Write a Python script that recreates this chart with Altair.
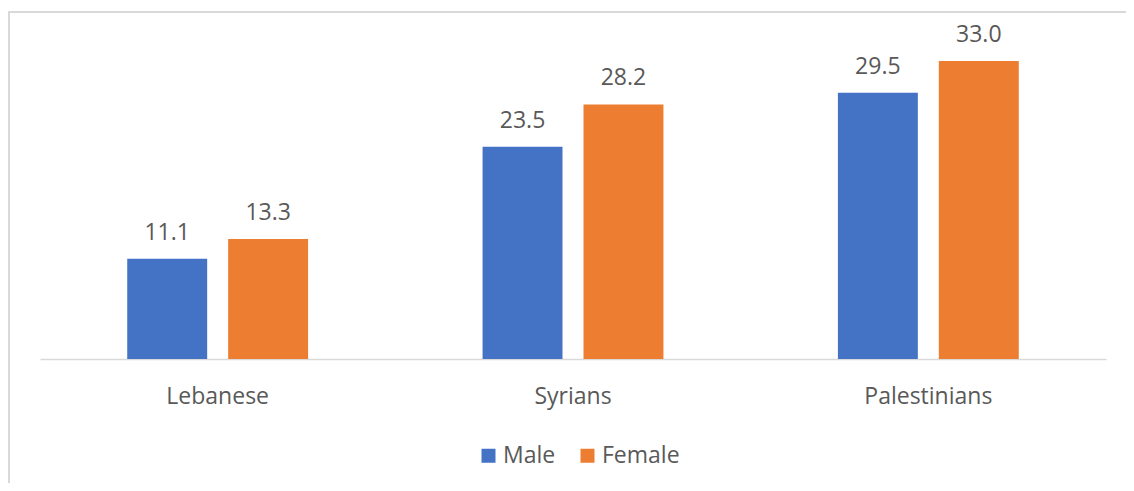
import altair as alt
import pandas as pd

groups = ["Lebanese", "Syrians", "Palestinians"]
sexes = ["Male", "Female"]
male_values = [11.1, 23.5, 29.5]
female_values = [13.3, 28.2, 33.0]
colors = ["#4472C4", "#ED7D31"]

rows = []
for g, m, f in zip(groups, male_values, female_values):
    rows.append({"group": g, "sex": "Male", "value": m})
    rows.append({"group": g, "sex": "Female", "value": f})
df = pd.DataFrame(rows)

FONT = "Open Sans"
TXT = "#595959"
FS = 23

x_enc = alt.X(
    "group:N",
    sort=groups,
    scale=alt.Scale(paddingInner=0.491, paddingOuter=0.2455),
    axis=alt.Axis(
        title=None,
        labelAngle=0,
        ticks=False,
        tickSize=0,
        labelPadding=44,
        labelBaseline="alphabetic",
        labelFont=FONT,
        labelFontSize=FS,
        labelColor=TXT,
        domainColor="#d9d9d9",
        domainWidth=1.5,
        grid=False,
    ),
)
xoff = alt.XOffset(
    "sex:N",
    sort=sexes,
    scale=alt.Scale(domain=sexes, paddingInner=0.208, paddingOuter=0),
)
y_enc = alt.Y("value:Q", scale=alt.Scale(domain=[0, 35], nice=False, zero=True), axis=None)

bars = alt.Chart(df).mark_bar().encode(
    x=x_enc,
    xOffset=xoff,
    y=y_enc,
    color=alt.Color(
        "sex:N",
        sort=sexes,
        scale=alt.Scale(domain=sexes, range=colors),
        legend=alt.Legend(
            title=None,
            orient="none",
            direction="horizontal",
            legendX=437,
            legendY=401,
            symbolType="square",
            symbolSize=196,
            symbolStrokeWidth=0,
            labelFont=FONT,
            labelFontSize=FS,
            labelColor=TXT,
            labelOffset=3,
            columnPadding=20,
            padding=0,
        ),
    ),
)

labels = alt.Chart(df).mark_text(
    baseline="alphabetic", dy=-19, font=FONT, fontSize=FS, color=TXT
).encode(
    x=alt.X("group:N", sort=groups),
    xOffset=alt.XOffset("sex:N", sort=sexes),
    y=alt.Y("value:Q"),
    text=alt.Text("value:Q", format=".1f"),
)

border_data = alt.Data(values=[{"k": 1}])
top_rule = alt.Chart(border_data).mark_rule(color="#d9d9d9", strokeWidth=2).encode(
    x=alt.value(-31), x2=alt.value(1100), y=alt.value(-31), y2=alt.value(-31)
)
left_rule = alt.Chart(border_data).mark_rule(color="#d9d9d9", strokeWidth=2).encode(
    x=alt.value(-31), x2=alt.value(-31), y=alt.value(-32), y2=alt.value(460)
)

chart = (
    alt.layer(bars, labels, top_rule, left_rule)
    .properties(
        width=1066,
        height=316,
        autosize=alt.AutoSizeParams(type="none"),
        padding={"left": 32, "top": 35, "right": 20, "bottom": 124},
        background="white",
    )
    .configure_view(stroke="transparent")
)

chart.save("out.html", embed_options={"renderer": "svg", "actions": False})
